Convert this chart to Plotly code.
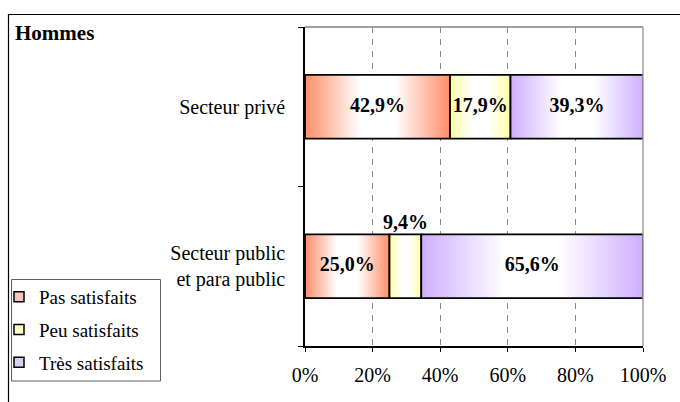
import plotly.graph_objects as go

# Satisfaction shares (%) by sector, men
categories = ["Secteur privé", "Secteur public<br>et para public"]
series_names = ["Pas satisfaits", "Peu satisfaits", "Très satisfaits"]
pas_satisfaits = [42.9, 25.0]
peu_satisfaits = [17.9, 9.4]
tres_satisfaits = [39.3, 65.6]
x_ticks = [0, 20, 40, 60, 80, 100]

series_values = [pas_satisfaits, peu_satisfaits, tres_satisfaits]
edge_colors = ["#FF8E69", "#FFFFA6", "#CFAEFF"]
legend_colors = ["#F6C6BC", "#FFFFC2", "#DCCCF6"]

FONT = "Liberation Serif"
HALF = 0.2  # half bar thickness in category units
# first category drawn on top
y_pos = [len(categories) - 1 - i for i in range(len(categories))]

# pixel geometry of the plotting area
W, H = 680, 402
L, R, T, B = 305, 37, 27, 56
PW, PH = W - L - R, H - T - B


def px_x(p):
    return (p - L) / PW


def px_y(p):
    return (H - B - p) / PH


fig = go.Figure()

label_x, label_y, label_txt, label_pos = [], [], [], []
for i, yc in enumerate(y_pos):
    base = 0.0
    for s, vals in enumerate(series_values):
        v = vals[i]
        x0, x1 = base, base + v
        fig.add_trace(go.Scatter(
            x=[x0, x1, x1, x0, x0],
            y=[yc - HALF, yc - HALF, yc + HALF, yc + HALF, yc - HALF],
            mode="lines", fill="toself",
            fillgradient=dict(
                type="horizontal",
                colorscale=[[0, edge_colors[s]], [0.38, "#FFFFFF"],
                            [0.62, "#FFFFFF"], [1, edge_colors[s]]],
            ),
            line=dict(color="black", width=1.8),
            showlegend=False, hoverinfo="skip",
        ))
        txt = f"{v:.1f}".replace(".", ",") + "%"
        label_x.append(base + v / 2)
        if v < 12:
            # too narrow: label sits above the segment
            label_y.append(yc + HALF)
            label_pos.append("top center")
        else:
            label_y.append(yc)
            label_pos.append("middle center")
        label_txt.append(txt)
        base = x1

fig.add_trace(go.Scatter(
    x=label_x, y=label_y, text=label_txt, mode="text",
    textposition=label_pos,
    textfont=dict(family=FONT, size=20, color="black", weight="bold"),
    showlegend=False, hoverinfo="skip",
))

# legend entries
for s, name in enumerate(series_names):
    fig.add_trace(go.Scatter(
        x=[None], y=[None], mode="markers", name=name,
        legendgroup=name,
        marker=dict(symbol="square", size=10, color=legend_colors[s],
                    line=dict(color="black", width=1.5)),
    ))

fig.update_layout(
    width=W, height=H,
    margin=dict(l=L, r=R, t=T, b=B, autoexpand=False),
    paper_bgcolor="white", plot_bgcolor="white",
    font=dict(family=FONT, size=19, color="black"),
    showlegend=True,
    legend=dict(
        x=px_x(-1), y=px_y(278), xanchor="left", yanchor="top",
        borderwidth=0, bgcolor="rgba(0,0,0,0)",
        font=dict(family=FONT, size=19), tracegroupgap=5,
        itemwidth=30,
    ),
    xaxis=dict(
        range=[0, 100], tickvals=x_ticks, ticktext=[f"{t}%" for t in x_ticks],
        showline=True, linecolor="black", linewidth=1.5,
        ticks="outside", ticklen=4, tickcolor="black", tickwidth=1,
        showgrid=True, gridcolor="#8C8C8C", gridwidth=1, griddash="6px,6px",
        zeroline=False, ticklabelstandoff=6,
        tickfont=dict(size=20),
    ),
    yaxis=dict(
        range=[-0.5, len(categories) - 0.5],
        tickvals=y_pos, ticktext=categories,
        showline=True, linecolor="black", linewidth=1.5,
        ticks="", showgrid=False, zeroline=False, ticklabelstandoff=14,
        tickfont=dict(size=20),
        minor=dict(tickvals=[-0.5, 0.5, 1.5], ticks="outside", ticklen=5,
                   tickcolor="black", tickwidth=1, showgrid=False),
    ),
    shapes=[
        # plot area top/right border
        dict(type="line", xref="paper", yref="paper", x0=0, x1=1, y0=1, y1=1,
             line=dict(color="#808080", width=1.5)),
        dict(type="line", xref="paper", yref="paper", x0=1, x1=1, y0=0, y1=1,
             line=dict(color="#A0A0A0", width=1.5)),
        # chart frame
        dict(type="rect", xref="paper", yref="paper",
             x0=px_x(8.5), x1=1.2, y0=-0.3, y1=px_y(14.5),
             line=dict(color="black", width=1.2), layer="below"),
        # legend box
        dict(type="rect", xref="paper", yref="paper",
             x0=px_x(11.5), x1=px_x(160.5), y0=px_y(381), y1=px_y(279.5),
             line=dict(color="#606060", width=1), fillcolor="white", layer="below"),
    ],
    annotations=[
        dict(text="<b>Hommes</b>", xref="paper", yref="paper",
             x=px_x(13), y=px_y(33), xanchor="left", yanchor="middle",
             showarrow=False, font=dict(family=FONT, size=21, color="black")),
    ],
)

fig.write_html("out.html")
